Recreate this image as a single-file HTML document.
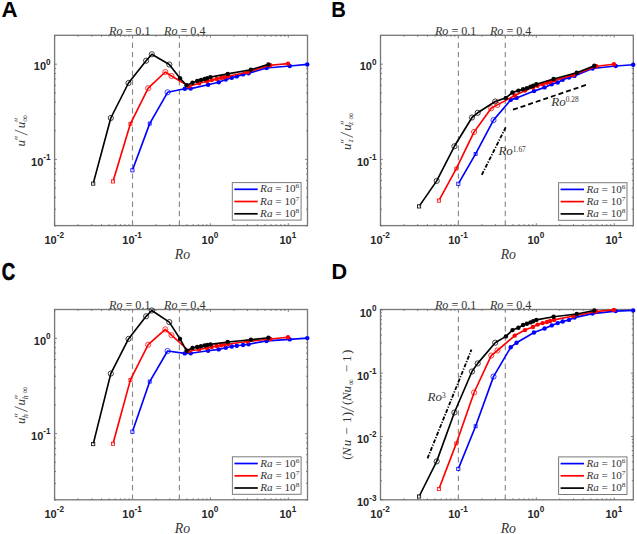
<!DOCTYPE html><html><head><meta charset="utf-8"><style>html,body{margin:0;padding:0;background:#fff;width:637px;height:534px;overflow:hidden}svg{display:block}</style></head><body><svg width="637" height="534" viewBox="0 0 637 534">
<style>.tl{font-family:"Liberation Sans",sans-serif;font-weight:bold;font-size:11px;fill:#262626}.lt{font-family:"Liberation Serif",serif;font-size:11px;fill:#333}.pl{font-family:"Liberation Sans",sans-serif;font-weight:bold;font-size:22.3px;fill:#000}</style>
<rect width="637" height="534" fill="#fff"/>
<text x="1.4" y="17.4" class="pl">A</text>
<text x="331.3" y="17.4" class="pl" textLength="14.6" lengthAdjust="spacingAndGlyphs">B</text>
<text x="1.8" y="279.8" class="pl" style="font-size:23.6px;stroke:#000;stroke-width:0.6" textLength="13.4" lengthAdjust="spacingAndGlyphs">C</text>
<text x="331.5" y="278.9" class="pl" textLength="15.6" lengthAdjust="spacingAndGlyphs">D</text>
<rect x="54.6" y="35.3" width="252.90" height="190.30" fill="none" stroke="#7a7a7a" stroke-width="1.35"/>
<path d="M54.60 225.6v-2.4M54.60 35.3v2.4M78.05 225.6v-1.5M78.05 35.3v1.5M91.77 225.6v-1.5M91.77 35.3v1.5M101.50 225.6v-1.5M101.50 35.3v1.5M109.05 225.6v-1.5M109.05 35.3v1.5M115.22 225.6v-1.5M115.22 35.3v1.5M120.43 225.6v-1.5M120.43 35.3v1.5M124.95 225.6v-1.5M124.95 35.3v1.5M128.94 225.6v-1.5M128.94 35.3v1.5M132.50 225.6v-2.4M132.50 35.3v2.4M155.95 225.6v-1.5M155.95 35.3v1.5M169.67 225.6v-1.5M169.67 35.3v1.5M179.40 225.6v-1.5M179.40 35.3v1.5M186.95 225.6v-1.5M186.95 35.3v1.5M193.12 225.6v-1.5M193.12 35.3v1.5M198.33 225.6v-1.5M198.33 35.3v1.5M202.85 225.6v-1.5M202.85 35.3v1.5M206.84 225.6v-1.5M206.84 35.3v1.5M210.40 225.6v-2.4M210.40 35.3v2.4M233.85 225.6v-1.5M233.85 35.3v1.5M247.57 225.6v-1.5M247.57 35.3v1.5M257.30 225.6v-1.5M257.30 35.3v1.5M264.85 225.6v-1.5M264.85 35.3v1.5M271.02 225.6v-1.5M271.02 35.3v1.5M276.23 225.6v-1.5M276.23 35.3v1.5M280.75 225.6v-1.5M280.75 35.3v1.5M284.74 225.6v-1.5M284.74 35.3v1.5M288.30 225.6v-2.4M288.30 35.3v2.4M54.6 225.94h1.5M307.5 225.94h-1.5M54.6 209.18h1.5M307.5 209.18h-1.5M54.6 197.28h1.5M307.5 197.28h-1.5M54.6 188.06h1.5M307.5 188.06h-1.5M54.6 180.52h1.5M307.5 180.52h-1.5M54.6 174.15h1.5M307.5 174.15h-1.5M54.6 168.63h1.5M307.5 168.63h-1.5M54.6 163.76h1.5M307.5 163.76h-1.5M54.6 159.40h2.4M307.5 159.40h-2.4M54.6 130.74h1.5M307.5 130.74h-1.5M54.6 113.98h1.5M307.5 113.98h-1.5M54.6 102.08h1.5M307.5 102.08h-1.5M54.6 92.86h1.5M307.5 92.86h-1.5M54.6 85.32h1.5M307.5 85.32h-1.5M54.6 78.95h1.5M307.5 78.95h-1.5M54.6 73.43h1.5M307.5 73.43h-1.5M54.6 68.56h1.5M307.5 68.56h-1.5M54.6 64.20h2.4M307.5 64.20h-2.4" stroke="#666" stroke-width="0.8" fill="none"/>
<line x1="132.50" y1="225.6" x2="132.50" y2="35.3" stroke="#8a8a8a" stroke-width="1.15" stroke-dasharray="5.4 3.95"/>
<line x1="179.40" y1="225.6" x2="179.40" y2="35.3" stroke="#8a8a8a" stroke-width="1.15" stroke-dasharray="5.4 3.95"/>
<text x="109.00" y="34.60" class="lt" style="font-size:13px" textLength="41.5" lengthAdjust="spacingAndGlyphs"><tspan font-style="italic">Ro</tspan> = 0.1</text>
<text x="164.00" y="34.60" class="lt" style="font-size:13px" textLength="41.5" lengthAdjust="spacingAndGlyphs"><tspan font-style="italic">Ro</tspan> = 0.4</text>
<text x="54.20" y="243.79999999999998" text-anchor="middle" class="tl">10<tspan dy="-5.7" font-size="8.2">-2</tspan></text>
<text x="132.10" y="243.79999999999998" text-anchor="middle" class="tl">10<tspan dy="-5.7" font-size="8.2">-1</tspan></text>
<text x="210.00" y="243.79999999999998" text-anchor="middle" class="tl">10<tspan dy="-5.7" font-size="8.2">0</tspan></text>
<text x="287.90" y="243.79999999999998" text-anchor="middle" class="tl">10<tspan dy="-5.7" font-size="8.2">1</tspan></text>
<text x="174.80" y="259.00" class="lt" style="font-style:italic;font-size:13.8px">Ro</text>
<rect x="380.5" y="35.3" width="252.80" height="190.30" fill="none" stroke="#7a7a7a" stroke-width="1.35"/>
<path d="M380.50 225.6v-2.4M380.50 35.3v2.4M403.95 225.6v-1.5M403.95 35.3v1.5M417.67 225.6v-1.5M417.67 35.3v1.5M427.40 225.6v-1.5M427.40 35.3v1.5M434.95 225.6v-1.5M434.95 35.3v1.5M441.12 225.6v-1.5M441.12 35.3v1.5M446.33 225.6v-1.5M446.33 35.3v1.5M450.85 225.6v-1.5M450.85 35.3v1.5M454.84 225.6v-1.5M454.84 35.3v1.5M458.40 225.6v-2.4M458.40 35.3v2.4M481.85 225.6v-1.5M481.85 35.3v1.5M495.57 225.6v-1.5M495.57 35.3v1.5M505.30 225.6v-1.5M505.30 35.3v1.5M512.85 225.6v-1.5M512.85 35.3v1.5M519.02 225.6v-1.5M519.02 35.3v1.5M524.23 225.6v-1.5M524.23 35.3v1.5M528.75 225.6v-1.5M528.75 35.3v1.5M532.74 225.6v-1.5M532.74 35.3v1.5M536.30 225.6v-2.4M536.30 35.3v2.4M559.75 225.6v-1.5M559.75 35.3v1.5M573.47 225.6v-1.5M573.47 35.3v1.5M583.20 225.6v-1.5M583.20 35.3v1.5M590.75 225.6v-1.5M590.75 35.3v1.5M596.92 225.6v-1.5M596.92 35.3v1.5M602.13 225.6v-1.5M602.13 35.3v1.5M606.65 225.6v-1.5M606.65 35.3v1.5M610.64 225.6v-1.5M610.64 35.3v1.5M614.20 225.6v-2.4M614.20 35.3v2.4M380.5 225.94h1.5M633.3 225.94h-1.5M380.5 209.18h1.5M633.3 209.18h-1.5M380.5 197.28h1.5M633.3 197.28h-1.5M380.5 188.06h1.5M633.3 188.06h-1.5M380.5 180.52h1.5M633.3 180.52h-1.5M380.5 174.15h1.5M633.3 174.15h-1.5M380.5 168.63h1.5M633.3 168.63h-1.5M380.5 163.76h1.5M633.3 163.76h-1.5M380.5 159.40h2.4M633.3 159.40h-2.4M380.5 130.74h1.5M633.3 130.74h-1.5M380.5 113.98h1.5M633.3 113.98h-1.5M380.5 102.08h1.5M633.3 102.08h-1.5M380.5 92.86h1.5M633.3 92.86h-1.5M380.5 85.32h1.5M633.3 85.32h-1.5M380.5 78.95h1.5M633.3 78.95h-1.5M380.5 73.43h1.5M633.3 73.43h-1.5M380.5 68.56h1.5M633.3 68.56h-1.5M380.5 64.20h2.4M633.3 64.20h-2.4" stroke="#666" stroke-width="0.8" fill="none"/>
<line x1="458.40" y1="225.6" x2="458.40" y2="35.3" stroke="#8a8a8a" stroke-width="1.15" stroke-dasharray="5.4 3.95"/>
<line x1="505.30" y1="225.6" x2="505.30" y2="35.3" stroke="#8a8a8a" stroke-width="1.15" stroke-dasharray="5.4 3.95"/>
<text x="434.90" y="34.60" class="lt" style="font-size:13px" textLength="41.5" lengthAdjust="spacingAndGlyphs"><tspan font-style="italic">Ro</tspan> = 0.1</text>
<text x="489.90" y="34.60" class="lt" style="font-size:13px" textLength="41.5" lengthAdjust="spacingAndGlyphs"><tspan font-style="italic">Ro</tspan> = 0.4</text>
<text x="380.10" y="243.79999999999998" text-anchor="middle" class="tl">10<tspan dy="-5.7" font-size="8.2">-2</tspan></text>
<text x="458.00" y="243.79999999999998" text-anchor="middle" class="tl">10<tspan dy="-5.7" font-size="8.2">-1</tspan></text>
<text x="535.90" y="243.79999999999998" text-anchor="middle" class="tl">10<tspan dy="-5.7" font-size="8.2">0</tspan></text>
<text x="613.80" y="243.79999999999998" text-anchor="middle" class="tl">10<tspan dy="-5.7" font-size="8.2">1</tspan></text>
<text x="500.70" y="259.00" class="lt" style="font-style:italic;font-size:13.8px">Ro</text>
<rect x="54.6" y="309.5" width="252.90" height="190.30" fill="none" stroke="#7a7a7a" stroke-width="1.35"/>
<path d="M54.60 499.8v-2.4M54.60 309.5v2.4M78.05 499.8v-1.5M78.05 309.5v1.5M91.77 499.8v-1.5M91.77 309.5v1.5M101.50 499.8v-1.5M101.50 309.5v1.5M109.05 499.8v-1.5M109.05 309.5v1.5M115.22 499.8v-1.5M115.22 309.5v1.5M120.43 499.8v-1.5M120.43 309.5v1.5M124.95 499.8v-1.5M124.95 309.5v1.5M128.94 499.8v-1.5M128.94 309.5v1.5M132.50 499.8v-2.4M132.50 309.5v2.4M155.95 499.8v-1.5M155.95 309.5v1.5M169.67 499.8v-1.5M169.67 309.5v1.5M179.40 499.8v-1.5M179.40 309.5v1.5M186.95 499.8v-1.5M186.95 309.5v1.5M193.12 499.8v-1.5M193.12 309.5v1.5M198.33 499.8v-1.5M198.33 309.5v1.5M202.85 499.8v-1.5M202.85 309.5v1.5M206.84 499.8v-1.5M206.84 309.5v1.5M210.40 499.8v-2.4M210.40 309.5v2.4M233.85 499.8v-1.5M233.85 309.5v1.5M247.57 499.8v-1.5M247.57 309.5v1.5M257.30 499.8v-1.5M257.30 309.5v1.5M264.85 499.8v-1.5M264.85 309.5v1.5M271.02 499.8v-1.5M271.02 309.5v1.5M276.23 499.8v-1.5M276.23 309.5v1.5M280.75 499.8v-1.5M280.75 309.5v1.5M284.74 499.8v-1.5M284.74 309.5v1.5M288.30 499.8v-2.4M288.30 309.5v2.4M54.6 500.14h1.5M307.5 500.14h-1.5M54.6 483.38h1.5M307.5 483.38h-1.5M54.6 471.48h1.5M307.5 471.48h-1.5M54.6 462.26h1.5M307.5 462.26h-1.5M54.6 454.72h1.5M307.5 454.72h-1.5M54.6 448.35h1.5M307.5 448.35h-1.5M54.6 442.83h1.5M307.5 442.83h-1.5M54.6 437.96h1.5M307.5 437.96h-1.5M54.6 433.60h2.4M307.5 433.60h-2.4M54.6 404.94h1.5M307.5 404.94h-1.5M54.6 388.18h1.5M307.5 388.18h-1.5M54.6 376.28h1.5M307.5 376.28h-1.5M54.6 367.06h1.5M307.5 367.06h-1.5M54.6 359.52h1.5M307.5 359.52h-1.5M54.6 353.15h1.5M307.5 353.15h-1.5M54.6 347.63h1.5M307.5 347.63h-1.5M54.6 342.76h1.5M307.5 342.76h-1.5M54.6 338.40h2.4M307.5 338.40h-2.4" stroke="#666" stroke-width="0.8" fill="none"/>
<line x1="132.50" y1="499.8" x2="132.50" y2="309.5" stroke="#8a8a8a" stroke-width="1.15" stroke-dasharray="5.4 3.95"/>
<line x1="179.40" y1="499.8" x2="179.40" y2="309.5" stroke="#8a8a8a" stroke-width="1.15" stroke-dasharray="5.4 3.95"/>
<text x="109.00" y="308.80" class="lt" style="font-size:13px" textLength="41.5" lengthAdjust="spacingAndGlyphs"><tspan font-style="italic">Ro</tspan> = 0.1</text>
<text x="164.00" y="308.80" class="lt" style="font-size:13px" textLength="41.5" lengthAdjust="spacingAndGlyphs"><tspan font-style="italic">Ro</tspan> = 0.4</text>
<text x="54.20" y="518.0" text-anchor="middle" class="tl">10<tspan dy="-5.7" font-size="8.2">-2</tspan></text>
<text x="132.10" y="518.0" text-anchor="middle" class="tl">10<tspan dy="-5.7" font-size="8.2">-1</tspan></text>
<text x="210.00" y="518.0" text-anchor="middle" class="tl">10<tspan dy="-5.7" font-size="8.2">0</tspan></text>
<text x="287.90" y="518.0" text-anchor="middle" class="tl">10<tspan dy="-5.7" font-size="8.2">1</tspan></text>
<text x="174.80" y="533.20" class="lt" style="font-style:italic;font-size:13.8px">Ro</text>
<rect x="380.5" y="309.5" width="252.80" height="190.30" fill="none" stroke="#7a7a7a" stroke-width="1.35"/>
<path d="M380.50 499.8v-2.4M380.50 309.5v2.4M403.95 499.8v-1.5M403.95 309.5v1.5M417.67 499.8v-1.5M417.67 309.5v1.5M427.40 499.8v-1.5M427.40 309.5v1.5M434.95 499.8v-1.5M434.95 309.5v1.5M441.12 499.8v-1.5M441.12 309.5v1.5M446.33 499.8v-1.5M446.33 309.5v1.5M450.85 499.8v-1.5M450.85 309.5v1.5M454.84 499.8v-1.5M454.84 309.5v1.5M458.40 499.8v-2.4M458.40 309.5v2.4M481.85 499.8v-1.5M481.85 309.5v1.5M495.57 499.8v-1.5M495.57 309.5v1.5M505.30 499.8v-1.5M505.30 309.5v1.5M512.85 499.8v-1.5M512.85 309.5v1.5M519.02 499.8v-1.5M519.02 309.5v1.5M524.23 499.8v-1.5M524.23 309.5v1.5M528.75 499.8v-1.5M528.75 309.5v1.5M532.74 499.8v-1.5M532.74 309.5v1.5M536.30 499.8v-2.4M536.30 309.5v2.4M559.75 499.8v-1.5M559.75 309.5v1.5M573.47 499.8v-1.5M573.47 309.5v1.5M583.20 499.8v-1.5M583.20 309.5v1.5M590.75 499.8v-1.5M590.75 309.5v1.5M596.92 499.8v-1.5M596.92 309.5v1.5M602.13 499.8v-1.5M602.13 309.5v1.5M606.65 499.8v-1.5M606.65 309.5v1.5M610.64 499.8v-1.5M610.64 309.5v1.5M614.20 499.8v-2.4M614.20 309.5v2.4M380.5 499.80h2.4M633.3 499.80h-2.4M380.5 480.74h1.5M633.3 480.74h-1.5M380.5 469.60h1.5M633.3 469.60h-1.5M380.5 461.69h1.5M633.3 461.69h-1.5M380.5 455.56h1.5M633.3 455.56h-1.5M380.5 450.54h1.5M633.3 450.54h-1.5M380.5 446.31h1.5M633.3 446.31h-1.5M380.5 442.63h1.5M633.3 442.63h-1.5M380.5 439.40h1.5M633.3 439.40h-1.5M380.5 436.50h2.4M633.3 436.50h-2.4M380.5 417.44h1.5M633.3 417.44h-1.5M380.5 406.30h1.5M633.3 406.30h-1.5M380.5 398.39h1.5M633.3 398.39h-1.5M380.5 392.26h1.5M633.3 392.26h-1.5M380.5 387.24h1.5M633.3 387.24h-1.5M380.5 383.01h1.5M633.3 383.01h-1.5M380.5 379.33h1.5M633.3 379.33h-1.5M380.5 376.10h1.5M633.3 376.10h-1.5M380.5 373.20h2.4M633.3 373.20h-2.4M380.5 354.14h1.5M633.3 354.14h-1.5M380.5 343.00h1.5M633.3 343.00h-1.5M380.5 335.09h1.5M633.3 335.09h-1.5M380.5 328.96h1.5M633.3 328.96h-1.5M380.5 323.94h1.5M633.3 323.94h-1.5M380.5 319.71h1.5M633.3 319.71h-1.5M380.5 316.03h1.5M633.3 316.03h-1.5M380.5 312.80h1.5M633.3 312.80h-1.5M380.5 309.90h2.4M633.3 309.90h-2.4" stroke="#666" stroke-width="0.8" fill="none"/>
<line x1="458.40" y1="499.8" x2="458.40" y2="309.5" stroke="#8a8a8a" stroke-width="1.15" stroke-dasharray="5.4 3.95"/>
<line x1="505.30" y1="499.8" x2="505.30" y2="309.5" stroke="#8a8a8a" stroke-width="1.15" stroke-dasharray="5.4 3.95"/>
<text x="434.90" y="308.80" class="lt" style="font-size:13px" textLength="41.5" lengthAdjust="spacingAndGlyphs"><tspan font-style="italic">Ro</tspan> = 0.1</text>
<text x="489.90" y="308.80" class="lt" style="font-size:13px" textLength="41.5" lengthAdjust="spacingAndGlyphs"><tspan font-style="italic">Ro</tspan> = 0.4</text>
<text x="380.10" y="518.0" text-anchor="middle" class="tl">10<tspan dy="-5.7" font-size="8.2">-2</tspan></text>
<text x="458.00" y="518.0" text-anchor="middle" class="tl">10<tspan dy="-5.7" font-size="8.2">-1</tspan></text>
<text x="535.90" y="518.0" text-anchor="middle" class="tl">10<tspan dy="-5.7" font-size="8.2">0</tspan></text>
<text x="613.80" y="518.0" text-anchor="middle" class="tl">10<tspan dy="-5.7" font-size="8.2">1</tspan></text>
<text x="500.70" y="533.20" class="lt" style="font-style:italic;font-size:13.8px">Ro</text>
<text x="50.6" y="70.30" text-anchor="end" class="tl">10<tspan dy="-5.7" font-size="8.2">0</tspan></text>
<text x="50.6" y="165.50" text-anchor="end" class="tl">10<tspan dy="-5.7" font-size="8.2">-1</tspan></text>
<text x="376.5" y="70.30" text-anchor="end" class="tl">10<tspan dy="-5.7" font-size="8.2">0</tspan></text>
<text x="376.5" y="165.50" text-anchor="end" class="tl">10<tspan dy="-5.7" font-size="8.2">-1</tspan></text>
<text x="50.6" y="344.50" text-anchor="end" class="tl">10<tspan dy="-5.7" font-size="8.2">0</tspan></text>
<text x="50.6" y="439.70" text-anchor="end" class="tl">10<tspan dy="-5.7" font-size="8.2">-1</tspan></text>
<text x="376.5" y="316.50" text-anchor="end" class="tl">10<tspan dy="-5.7" font-size="8.2">0</tspan></text>
<text x="376.5" y="379.80" text-anchor="end" class="tl">10<tspan dy="-5.7" font-size="8.2">-1</tspan></text>
<text x="376.5" y="443.10" text-anchor="end" class="tl">10<tspan dy="-5.7" font-size="8.2">-2</tspan></text>
<text x="376.5" y="506.40" text-anchor="end" class="tl">10<tspan dy="-5.7" font-size="8.2">-3</tspan></text>
<polyline points="132.4,170.3 149.7,123.6 167.6,92.3 184.8,88.8 190.7,88.6 208.1,84.7 218.7,82.3 225.8,79.6 231.8,77.8 236.8,76.4 243.1,74.4 248.6,73.2 266.6,68.0 289.8,66.0 307.3,64.4" fill="none" stroke="#0000ff" stroke-width="1.65" stroke-linejoin="round"/>
<rect x="130.8" y="168.7" width="3.2" height="3.2" fill="#fff" fill-opacity="0.6" stroke="#0000ff" stroke-width="0.8"/>
<rect x="148.2" y="122.1" width="3" height="3" fill="none" stroke="#0000ff" stroke-width="0.8"/>
<circle cx="167.6" cy="92.3" r="2.6" fill="none" stroke="#0000ff" stroke-width="0.75"/>
<circle cx="184.8" cy="88.8" r="2.2" fill="#0000ff"/>
<circle cx="190.7" cy="88.6" r="2.2" fill="#0000ff"/>
<circle cx="208.1" cy="84.7" r="2.2" fill="#0000ff"/>
<circle cx="218.7" cy="82.3" r="2.2" fill="#0000ff"/>
<circle cx="225.8" cy="79.6" r="2.2" fill="#0000ff"/>
<circle cx="231.8" cy="77.8" r="2.2" fill="#0000ff"/>
<circle cx="236.8" cy="76.4" r="2.2" fill="#0000ff"/>
<circle cx="243.1" cy="74.4" r="2.2" fill="#0000ff"/>
<circle cx="248.6" cy="73.2" r="2.2" fill="#0000ff"/>
<circle cx="266.6" cy="68.0" r="2.2" fill="#0000ff"/>
<circle cx="289.8" cy="66.0" r="2.2" fill="#0000ff"/>
<circle cx="307.3" cy="64.4" r="2.2" fill="#0000ff"/>
<polyline points="113.0,181.4 130.4,123.8 148.2,88.2 165.3,72.0 171.5,76.0 188.9,86.4 199.1,83.3 207.0,81.3 211.7,80.1 216.7,78.9 221.1,77.9 224.2,77.2 228.2,76.3 247.4,72.2 270.3,65.3 288.0,63.6" fill="none" stroke="#ff0000" stroke-width="1.65" stroke-linejoin="round"/>
<rect x="111.4" y="179.8" width="3.2" height="3.2" fill="#fff" fill-opacity="0.6" stroke="#ff0000" stroke-width="0.8"/>
<rect x="128.9" y="122.3" width="3" height="3" fill="none" stroke="#ff0000" stroke-width="0.8"/>
<circle cx="148.2" cy="88.2" r="2.6" fill="none" stroke="#ff0000" stroke-width="0.75"/>
<circle cx="165.3" cy="72.0" r="2.6" fill="none" stroke="#ff0000" stroke-width="0.75"/>
<circle cx="171.5" cy="76.0" r="2.6" fill="none" stroke="#ff0000" stroke-width="0.75"/>
<circle cx="188.9" cy="86.4" r="2.2" fill="#ff0000"/>
<circle cx="199.1" cy="83.3" r="2.2" fill="#ff0000"/>
<circle cx="207.0" cy="81.3" r="2.2" fill="#ff0000"/>
<circle cx="211.7" cy="80.1" r="2.2" fill="#ff0000"/>
<circle cx="216.7" cy="78.9" r="2.2" fill="#ff0000"/>
<circle cx="221.1" cy="77.9" r="2.2" fill="#ff0000"/>
<circle cx="224.2" cy="77.2" r="2.2" fill="#ff0000"/>
<circle cx="228.2" cy="76.3" r="2.2" fill="#ff0000"/>
<circle cx="247.4" cy="72.2" r="2.2" fill="#ff0000"/>
<circle cx="270.3" cy="65.3" r="2.2" fill="#ff0000"/>
<circle cx="288.0" cy="63.6" r="2.2" fill="#ff0000"/>
<polyline points="93.2,183.6 110.8,118.0 128.5,83.0 146.1,60.7 151.8,54.3 169.3,64.5 180.0,78.3 186.6,85.2 192.5,82.8 197.2,80.9 201.0,79.9 204.6,79.0 207.3,78.2 210.4,77.1 227.7,73.9 250.9,69.7 268.4,64.4" fill="none" stroke="#000000" stroke-width="1.65" stroke-linejoin="round"/>
<rect x="91.6" y="182.0" width="3.2" height="3.2" fill="#fff" fill-opacity="0.6" stroke="#000000" stroke-width="0.8"/>
<circle cx="110.8" cy="118.0" r="2.6" fill="none" stroke="#000000" stroke-width="0.75"/>
<circle cx="128.5" cy="83.0" r="2.6" fill="none" stroke="#000000" stroke-width="0.75"/>
<circle cx="146.1" cy="60.7" r="2.6" fill="none" stroke="#000000" stroke-width="0.75"/>
<circle cx="151.8" cy="54.3" r="2.6" fill="none" stroke="#000000" stroke-width="0.75"/>
<circle cx="169.3" cy="64.5" r="2.6" fill="none" stroke="#000000" stroke-width="0.75"/>
<circle cx="180.0" cy="78.3" r="2.2" fill="#000000"/>
<circle cx="186.6" cy="85.2" r="2.2" fill="#000000"/>
<circle cx="192.5" cy="82.8" r="2.2" fill="#000000"/>
<circle cx="197.2" cy="80.9" r="2.2" fill="#000000"/>
<circle cx="201.0" cy="79.9" r="2.2" fill="#000000"/>
<circle cx="204.6" cy="79.0" r="2.2" fill="#000000"/>
<circle cx="207.3" cy="78.2" r="2.2" fill="#000000"/>
<circle cx="210.4" cy="77.1" r="2.2" fill="#000000"/>
<circle cx="227.7" cy="73.9" r="2.2" fill="#000000"/>
<circle cx="250.9" cy="69.7" r="2.2" fill="#000000"/>
<circle cx="268.4" cy="64.4" r="2.2" fill="#000000"/>
<polyline points="458.3,183.8 475.6,153.9 493.5,120.1 510.7,99.9 516.6,97.9 534.0,91.1 544.6,87.4 551.7,84.2 557.7,82.5 562.7,79.8 569.0,77.5 574.5,75.9 592.5,68.5 615.7,66.0 633.2,64.8" fill="none" stroke="#0000ff" stroke-width="1.65" stroke-linejoin="round"/>
<rect x="456.7" y="182.2" width="3.2" height="3.2" fill="#fff" fill-opacity="0.6" stroke="#0000ff" stroke-width="0.8"/>
<rect x="474.1" y="152.4" width="3" height="3" fill="none" stroke="#0000ff" stroke-width="0.8"/>
<circle cx="493.5" cy="120.1" r="2.6" fill="none" stroke="#0000ff" stroke-width="0.75"/>
<circle cx="510.7" cy="99.9" r="2.2" fill="#0000ff"/>
<circle cx="516.6" cy="97.9" r="2.2" fill="#0000ff"/>
<circle cx="534.0" cy="91.1" r="2.2" fill="#0000ff"/>
<circle cx="544.6" cy="87.4" r="2.2" fill="#0000ff"/>
<circle cx="551.7" cy="84.2" r="2.2" fill="#0000ff"/>
<circle cx="557.7" cy="82.5" r="2.2" fill="#0000ff"/>
<circle cx="562.7" cy="79.8" r="2.2" fill="#0000ff"/>
<circle cx="569.0" cy="77.5" r="2.2" fill="#0000ff"/>
<circle cx="574.5" cy="75.9" r="2.2" fill="#0000ff"/>
<circle cx="592.5" cy="68.5" r="2.2" fill="#0000ff"/>
<circle cx="615.7" cy="66.0" r="2.2" fill="#0000ff"/>
<circle cx="633.2" cy="64.8" r="2.2" fill="#0000ff"/>
<polyline points="438.9,200.6 456.3,168.6 474.1,131.9 491.2,108.3 497.4,104.9 514.8,95.5 525.0,90.5 532.9,87.5 537.6,85.8 542.6,84.2 547.0,82.8 550.1,81.8 554.1,80.6 573.3,75.0 596.2,66.3 613.9,64.2" fill="none" stroke="#ff0000" stroke-width="1.65" stroke-linejoin="round"/>
<rect x="437.3" y="199.0" width="3.2" height="3.2" fill="#fff" fill-opacity="0.6" stroke="#ff0000" stroke-width="0.8"/>
<rect x="454.8" y="167.1" width="3" height="3" fill="none" stroke="#ff0000" stroke-width="0.8"/>
<circle cx="474.1" cy="131.9" r="2.6" fill="none" stroke="#ff0000" stroke-width="0.75"/>
<circle cx="491.2" cy="108.3" r="2.6" fill="none" stroke="#ff0000" stroke-width="0.75"/>
<circle cx="497.4" cy="104.9" r="2.6" fill="none" stroke="#ff0000" stroke-width="0.75"/>
<circle cx="514.8" cy="95.5" r="2.2" fill="#ff0000"/>
<circle cx="525.0" cy="90.5" r="2.2" fill="#ff0000"/>
<circle cx="532.9" cy="87.5" r="2.2" fill="#ff0000"/>
<circle cx="537.6" cy="85.8" r="2.2" fill="#ff0000"/>
<circle cx="542.6" cy="84.2" r="2.2" fill="#ff0000"/>
<circle cx="547.0" cy="82.8" r="2.2" fill="#ff0000"/>
<circle cx="550.1" cy="81.8" r="2.2" fill="#ff0000"/>
<circle cx="554.1" cy="80.6" r="2.2" fill="#ff0000"/>
<circle cx="573.3" cy="75.0" r="2.2" fill="#ff0000"/>
<circle cx="596.2" cy="66.3" r="2.2" fill="#ff0000"/>
<circle cx="613.9" cy="64.2" r="2.2" fill="#ff0000"/>
<polyline points="419.1,206.4 436.7,180.9 454.4,146.3 472.0,117.5 477.7,112.8 495.2,101.5 505.9,97.9 512.5,92.5 518.4,90.6 523.1,89.2 526.9,88.2 530.5,86.8 533.2,85.8 536.3,84.2 553.6,79.0 576.8,72.8 594.3,65.7" fill="none" stroke="#000000" stroke-width="1.65" stroke-linejoin="round"/>
<rect x="417.5" y="204.8" width="3.2" height="3.2" fill="#fff" fill-opacity="0.6" stroke="#000000" stroke-width="0.8"/>
<circle cx="436.7" cy="180.9" r="2.6" fill="none" stroke="#000000" stroke-width="0.75"/>
<circle cx="454.4" cy="146.3" r="2.6" fill="none" stroke="#000000" stroke-width="0.75"/>
<circle cx="472.0" cy="117.5" r="2.6" fill="none" stroke="#000000" stroke-width="0.75"/>
<circle cx="477.7" cy="112.8" r="2.6" fill="none" stroke="#000000" stroke-width="0.75"/>
<circle cx="495.2" cy="101.5" r="2.6" fill="none" stroke="#000000" stroke-width="0.75"/>
<circle cx="505.9" cy="97.9" r="2.2" fill="#000000"/>
<circle cx="512.5" cy="92.5" r="2.2" fill="#000000"/>
<circle cx="518.4" cy="90.6" r="2.2" fill="#000000"/>
<circle cx="523.1" cy="89.2" r="2.2" fill="#000000"/>
<circle cx="526.9" cy="88.2" r="2.2" fill="#000000"/>
<circle cx="530.5" cy="86.8" r="2.2" fill="#000000"/>
<circle cx="533.2" cy="85.8" r="2.2" fill="#000000"/>
<circle cx="536.3" cy="84.2" r="2.2" fill="#000000"/>
<circle cx="553.6" cy="79.0" r="2.2" fill="#000000"/>
<circle cx="576.8" cy="72.8" r="2.2" fill="#000000"/>
<circle cx="594.3" cy="65.7" r="2.2" fill="#000000"/>
<polyline points="132.4,431.7 149.7,381.6 167.6,351.0 184.8,353.4 190.7,353.2 208.1,350.8 218.7,349.4 225.8,347.7 231.8,346.5 236.8,345.8 243.1,345.0 248.6,344.2 266.6,340.9 289.8,339.4 307.3,338.1" fill="none" stroke="#0000ff" stroke-width="1.65" stroke-linejoin="round"/>
<rect x="130.8" y="430.1" width="3.2" height="3.2" fill="#fff" fill-opacity="0.6" stroke="#0000ff" stroke-width="0.8"/>
<rect x="148.2" y="380.1" width="3" height="3" fill="none" stroke="#0000ff" stroke-width="0.8"/>
<circle cx="167.6" cy="351.0" r="2.6" fill="none" stroke="#0000ff" stroke-width="0.75"/>
<circle cx="184.8" cy="353.4" r="2.2" fill="#0000ff"/>
<circle cx="190.7" cy="353.2" r="2.2" fill="#0000ff"/>
<circle cx="208.1" cy="350.8" r="2.2" fill="#0000ff"/>
<circle cx="218.7" cy="349.4" r="2.2" fill="#0000ff"/>
<circle cx="225.8" cy="347.7" r="2.2" fill="#0000ff"/>
<circle cx="231.8" cy="346.5" r="2.2" fill="#0000ff"/>
<circle cx="236.8" cy="345.8" r="2.2" fill="#0000ff"/>
<circle cx="243.1" cy="345.0" r="2.2" fill="#0000ff"/>
<circle cx="248.6" cy="344.2" r="2.2" fill="#0000ff"/>
<circle cx="266.6" cy="340.9" r="2.2" fill="#0000ff"/>
<circle cx="289.8" cy="339.4" r="2.2" fill="#0000ff"/>
<circle cx="307.3" cy="338.1" r="2.2" fill="#0000ff"/>
<polyline points="113.0,443.7 130.4,379.9 148.2,344.7 165.3,329.4 171.5,335.2 188.9,351.0 199.1,349.5 207.0,348.0 211.7,347.0 216.7,346.0 221.1,345.2 224.2,344.6 228.2,344.0 247.4,341.5 270.3,339.0 288.0,337.3" fill="none" stroke="#ff0000" stroke-width="1.65" stroke-linejoin="round"/>
<rect x="111.4" y="442.1" width="3.2" height="3.2" fill="#fff" fill-opacity="0.6" stroke="#ff0000" stroke-width="0.8"/>
<rect x="128.9" y="378.4" width="3" height="3" fill="none" stroke="#ff0000" stroke-width="0.8"/>
<circle cx="148.2" cy="344.7" r="2.6" fill="none" stroke="#ff0000" stroke-width="0.75"/>
<circle cx="165.3" cy="329.4" r="2.6" fill="none" stroke="#ff0000" stroke-width="0.75"/>
<circle cx="171.5" cy="335.2" r="2.6" fill="none" stroke="#ff0000" stroke-width="0.75"/>
<circle cx="188.9" cy="351.0" r="2.2" fill="#ff0000"/>
<circle cx="199.1" cy="349.5" r="2.2" fill="#ff0000"/>
<circle cx="207.0" cy="348.0" r="2.2" fill="#ff0000"/>
<circle cx="211.7" cy="347.0" r="2.2" fill="#ff0000"/>
<circle cx="216.7" cy="346.0" r="2.2" fill="#ff0000"/>
<circle cx="221.1" cy="345.2" r="2.2" fill="#ff0000"/>
<circle cx="224.2" cy="344.6" r="2.2" fill="#ff0000"/>
<circle cx="228.2" cy="344.0" r="2.2" fill="#ff0000"/>
<circle cx="247.4" cy="341.5" r="2.2" fill="#ff0000"/>
<circle cx="270.3" cy="339.0" r="2.2" fill="#ff0000"/>
<circle cx="288.0" cy="337.3" r="2.2" fill="#ff0000"/>
<polyline points="93.2,444.1 110.8,373.6 128.5,338.9 146.1,316.3 151.8,310.5 169.3,322.1 180.0,338.9 186.6,350.8 192.5,347.9 197.2,347.0 201.0,346.2 204.6,345.5 207.3,344.9 210.4,344.4 227.7,342.0 250.9,339.8 268.4,337.7" fill="none" stroke="#000000" stroke-width="1.65" stroke-linejoin="round"/>
<rect x="91.6" y="442.5" width="3.2" height="3.2" fill="#fff" fill-opacity="0.6" stroke="#000000" stroke-width="0.8"/>
<circle cx="110.8" cy="373.6" r="2.6" fill="none" stroke="#000000" stroke-width="0.75"/>
<circle cx="128.5" cy="338.9" r="2.6" fill="none" stroke="#000000" stroke-width="0.75"/>
<circle cx="146.1" cy="316.3" r="2.6" fill="none" stroke="#000000" stroke-width="0.75"/>
<circle cx="151.8" cy="310.5" r="2.6" fill="none" stroke="#000000" stroke-width="0.75"/>
<circle cx="169.3" cy="322.1" r="2.6" fill="none" stroke="#000000" stroke-width="0.75"/>
<circle cx="180.0" cy="338.9" r="2.2" fill="#000000"/>
<circle cx="186.6" cy="350.8" r="2.2" fill="#000000"/>
<circle cx="192.5" cy="347.9" r="2.2" fill="#000000"/>
<circle cx="197.2" cy="347.0" r="2.2" fill="#000000"/>
<circle cx="201.0" cy="346.2" r="2.2" fill="#000000"/>
<circle cx="204.6" cy="345.5" r="2.2" fill="#000000"/>
<circle cx="207.3" cy="344.9" r="2.2" fill="#000000"/>
<circle cx="210.4" cy="344.4" r="2.2" fill="#000000"/>
<circle cx="227.7" cy="342.0" r="2.2" fill="#000000"/>
<circle cx="250.9" cy="339.8" r="2.2" fill="#000000"/>
<circle cx="268.4" cy="337.7" r="2.2" fill="#000000"/>
<polyline points="458.3,468.9 475.6,426.3 493.5,376.6 510.7,347.3 516.6,342.7 534.0,332.5 544.6,328.5 551.7,325.4 557.7,323.1 562.7,321.5 569.0,319.9 574.5,317.6 592.5,313.6 615.7,311.1 633.2,310.4" fill="none" stroke="#0000ff" stroke-width="1.65" stroke-linejoin="round"/>
<rect x="456.7" y="467.3" width="3.2" height="3.2" fill="#fff" fill-opacity="0.6" stroke="#0000ff" stroke-width="0.8"/>
<rect x="474.1" y="424.8" width="3" height="3" fill="none" stroke="#0000ff" stroke-width="0.8"/>
<circle cx="493.5" cy="376.6" r="2.6" fill="none" stroke="#0000ff" stroke-width="0.75"/>
<circle cx="510.7" cy="347.3" r="2.2" fill="#0000ff"/>
<circle cx="516.6" cy="342.7" r="2.2" fill="#0000ff"/>
<circle cx="534.0" cy="332.5" r="2.2" fill="#0000ff"/>
<circle cx="544.6" cy="328.5" r="2.2" fill="#0000ff"/>
<circle cx="551.7" cy="325.4" r="2.2" fill="#0000ff"/>
<circle cx="557.7" cy="323.1" r="2.2" fill="#0000ff"/>
<circle cx="562.7" cy="321.5" r="2.2" fill="#0000ff"/>
<circle cx="569.0" cy="319.9" r="2.2" fill="#0000ff"/>
<circle cx="574.5" cy="317.6" r="2.2" fill="#0000ff"/>
<circle cx="592.5" cy="313.6" r="2.2" fill="#0000ff"/>
<circle cx="615.7" cy="311.1" r="2.2" fill="#0000ff"/>
<circle cx="633.2" cy="310.4" r="2.2" fill="#0000ff"/>
<polyline points="438.9,489.0 456.3,443.4 474.1,392.5 491.2,355.6 497.4,350.5 514.8,335.6 525.0,330.1 532.9,327.0 537.6,324.6 542.6,323.1 547.0,322.0 550.1,321.0 554.1,319.9 573.3,316.0 596.2,311.5 613.9,309.9" fill="none" stroke="#ff0000" stroke-width="1.65" stroke-linejoin="round"/>
<rect x="437.3" y="487.4" width="3.2" height="3.2" fill="#fff" fill-opacity="0.6" stroke="#ff0000" stroke-width="0.8"/>
<rect x="454.8" y="441.9" width="3" height="3" fill="none" stroke="#ff0000" stroke-width="0.8"/>
<circle cx="474.1" cy="392.5" r="2.6" fill="none" stroke="#ff0000" stroke-width="0.75"/>
<circle cx="491.2" cy="355.6" r="2.6" fill="none" stroke="#ff0000" stroke-width="0.75"/>
<circle cx="497.4" cy="350.5" r="2.6" fill="none" stroke="#ff0000" stroke-width="0.75"/>
<circle cx="514.8" cy="335.6" r="2.2" fill="#ff0000"/>
<circle cx="525.0" cy="330.1" r="2.2" fill="#ff0000"/>
<circle cx="532.9" cy="327.0" r="2.2" fill="#ff0000"/>
<circle cx="537.6" cy="324.6" r="2.2" fill="#ff0000"/>
<circle cx="542.6" cy="323.1" r="2.2" fill="#ff0000"/>
<circle cx="547.0" cy="322.0" r="2.2" fill="#ff0000"/>
<circle cx="550.1" cy="321.0" r="2.2" fill="#ff0000"/>
<circle cx="554.1" cy="319.9" r="2.2" fill="#ff0000"/>
<circle cx="573.3" cy="316.0" r="2.2" fill="#ff0000"/>
<circle cx="596.2" cy="311.5" r="2.2" fill="#ff0000"/>
<circle cx="613.9" cy="309.9" r="2.2" fill="#ff0000"/>
<polyline points="419.1,496.5 436.7,461.4 454.4,412.5 472.0,371.5 477.7,363.4 495.2,342.7 505.9,336.4 512.5,330.1 518.4,327.7 523.1,325.0 526.9,323.8 530.5,322.4 533.2,321.3 536.3,319.9 553.6,316.8 576.8,314.0 594.3,310.5" fill="none" stroke="#000000" stroke-width="1.65" stroke-linejoin="round"/>
<rect x="417.5" y="494.9" width="3.2" height="3.2" fill="#fff" fill-opacity="0.6" stroke="#000000" stroke-width="0.8"/>
<circle cx="436.7" cy="461.4" r="2.6" fill="none" stroke="#000000" stroke-width="0.75"/>
<circle cx="454.4" cy="412.5" r="2.6" fill="none" stroke="#000000" stroke-width="0.75"/>
<circle cx="472.0" cy="371.5" r="2.6" fill="none" stroke="#000000" stroke-width="0.75"/>
<circle cx="477.7" cy="363.4" r="2.6" fill="none" stroke="#000000" stroke-width="0.75"/>
<circle cx="495.2" cy="342.7" r="2.6" fill="none" stroke="#000000" stroke-width="0.75"/>
<circle cx="505.9" cy="336.4" r="2.2" fill="#000000"/>
<circle cx="512.5" cy="330.1" r="2.2" fill="#000000"/>
<circle cx="518.4" cy="327.7" r="2.2" fill="#000000"/>
<circle cx="523.1" cy="325.0" r="2.2" fill="#000000"/>
<circle cx="526.9" cy="323.8" r="2.2" fill="#000000"/>
<circle cx="530.5" cy="322.4" r="2.2" fill="#000000"/>
<circle cx="533.2" cy="321.3" r="2.2" fill="#000000"/>
<circle cx="536.3" cy="319.9" r="2.2" fill="#000000"/>
<circle cx="553.6" cy="316.8" r="2.2" fill="#000000"/>
<circle cx="576.8" cy="314.0" r="2.2" fill="#000000"/>
<circle cx="594.3" cy="310.5" r="2.2" fill="#000000"/>
<line x1="513" y1="109.7" x2="588.2" y2="84.2" stroke="#000" stroke-width="1.8" stroke-dasharray="5 3"/>
<line x1="481.8" y1="174.8" x2="505.7" y2="127.3" stroke="#000" stroke-width="1.8" stroke-dasharray="4 1.5 1.2 1.5"/>
<line x1="427.5" y1="458.4" x2="471.5" y2="349.6" stroke="#000" stroke-width="1.8" stroke-dasharray="4 1.5 1.2 1.5"/>
<text x="551.2" y="105.8" class="lt" style="font-size:13px"><tspan font-style="italic">Ro</tspan><tspan dy="-3.4" font-size="7.4">0.28</tspan></text>
<text x="498.4" y="154.9" class="lt" style="font-size:13px"><tspan font-style="italic">Ro</tspan><tspan dy="-3.4" font-size="7.4">1.67</tspan></text>
<text x="427.6" y="400.9" class="lt" style="font-size:13px"><tspan font-style="italic">Ro</tspan><tspan dy="-3.4" font-size="7.4">3</tspan></text>
<rect x="232.3" y="182.6" width="68.8" height="37.5" fill="#fff" stroke="#7a7a7a" stroke-width="1"/>
<line x1="234.3" y1="189.3" x2="257.7" y2="189.3" stroke="#0000ff" stroke-width="1.7"/>
<text x="260.1" y="192.4" class="lt" style="font-size:10.5px" textLength="39.2" lengthAdjust="spacingAndGlyphs"><tspan font-style="italic">Ra</tspan> = 10<tspan dy="-4" font-size="7">6</tspan></text>
<line x1="234.3" y1="201.5" x2="257.7" y2="201.5" stroke="#ff0000" stroke-width="1.7"/>
<text x="260.1" y="204.6" class="lt" style="font-size:10.5px" textLength="39.2" lengthAdjust="spacingAndGlyphs"><tspan font-style="italic">Ra</tspan> = 10<tspan dy="-4" font-size="7">7</tspan></text>
<line x1="234.3" y1="213.8" x2="257.7" y2="213.8" stroke="#000000" stroke-width="1.7"/>
<text x="260.1" y="216.9" class="lt" style="font-size:10.5px" textLength="39.2" lengthAdjust="spacingAndGlyphs"><tspan font-style="italic">Ra</tspan> = 10<tspan dy="-4" font-size="7">8</tspan></text>
<rect x="558.6" y="182.7" width="68.4" height="37.6" fill="#fff" stroke="#7a7a7a" stroke-width="1"/>
<line x1="560.6" y1="189.4" x2="584.0" y2="189.4" stroke="#0000ff" stroke-width="1.7"/>
<text x="586.4" y="192.5" class="lt" style="font-size:10.5px" textLength="39.2" lengthAdjust="spacingAndGlyphs"><tspan font-style="italic">Ra</tspan> = 10<tspan dy="-4" font-size="7">6</tspan></text>
<line x1="560.6" y1="201.6" x2="584.0" y2="201.6" stroke="#ff0000" stroke-width="1.7"/>
<text x="586.4" y="204.7" class="lt" style="font-size:10.5px" textLength="39.2" lengthAdjust="spacingAndGlyphs"><tspan font-style="italic">Ra</tspan> = 10<tspan dy="-4" font-size="7">7</tspan></text>
<line x1="560.6" y1="213.9" x2="584.0" y2="213.9" stroke="#000000" stroke-width="1.7"/>
<text x="586.4" y="217.0" class="lt" style="font-size:10.5px" textLength="39.2" lengthAdjust="spacingAndGlyphs"><tspan font-style="italic">Ra</tspan> = 10<tspan dy="-4" font-size="7">8</tspan></text>
<rect x="232.4" y="456.8" width="68.7" height="37.5" fill="#fff" stroke="#7a7a7a" stroke-width="1"/>
<line x1="234.4" y1="463.5" x2="257.8" y2="463.5" stroke="#0000ff" stroke-width="1.7"/>
<text x="260.2" y="466.6" class="lt" style="font-size:10.5px" textLength="39.2" lengthAdjust="spacingAndGlyphs"><tspan font-style="italic">Ra</tspan> = 10<tspan dy="-4" font-size="7">6</tspan></text>
<line x1="234.4" y1="475.8" x2="257.8" y2="475.8" stroke="#ff0000" stroke-width="1.7"/>
<text x="260.2" y="478.9" class="lt" style="font-size:10.5px" textLength="39.2" lengthAdjust="spacingAndGlyphs"><tspan font-style="italic">Ra</tspan> = 10<tspan dy="-4" font-size="7">7</tspan></text>
<line x1="234.4" y1="488.0" x2="257.8" y2="488.0" stroke="#000000" stroke-width="1.7"/>
<text x="260.2" y="491.1" class="lt" style="font-size:10.5px" textLength="39.2" lengthAdjust="spacingAndGlyphs"><tspan font-style="italic">Ra</tspan> = 10<tspan dy="-4" font-size="7">8</tspan></text>
<rect x="558.6" y="456.9" width="68.4" height="37.6" fill="#fff" stroke="#7a7a7a" stroke-width="1"/>
<line x1="560.6" y1="463.6" x2="584.0" y2="463.6" stroke="#0000ff" stroke-width="1.7"/>
<text x="586.4" y="466.7" class="lt" style="font-size:10.5px" textLength="39.2" lengthAdjust="spacingAndGlyphs"><tspan font-style="italic">Ra</tspan> = 10<tspan dy="-4" font-size="7">6</tspan></text>
<line x1="560.6" y1="475.8" x2="584.0" y2="475.8" stroke="#ff0000" stroke-width="1.7"/>
<text x="586.4" y="478.9" class="lt" style="font-size:10.5px" textLength="39.2" lengthAdjust="spacingAndGlyphs"><tspan font-style="italic">Ra</tspan> = 10<tspan dy="-4" font-size="7">7</tspan></text>
<line x1="560.6" y1="488.1" x2="584.0" y2="488.1" stroke="#000000" stroke-width="1.7"/>
<text x="586.4" y="491.2" class="lt" style="font-size:10.5px" textLength="39.2" lengthAdjust="spacingAndGlyphs"><tspan font-style="italic">Ra</tspan> = 10<tspan dy="-4" font-size="7">8</tspan></text>
<g transform="translate(24.7,146.5) rotate(-90)" style='font-family:"Liberation Serif",serif;fill:#333'><text x="0" y="0" style="font-size:13px;font-style:italic">u</text><path d="M7.1 -7.1L7.8 -9.9M9.2 -7.1L9.9 -9.9" stroke="#383838" stroke-width="0.8" fill="none"/><path d="M11.5 2.8L16.5 -9.9" stroke="#383838" stroke-width="0.8" fill="none"/><text x="18.2" y="0" style="font-size:13px;font-style:italic">u</text><path d="M25.200000000000003 -7.1L25.900000000000002 -9.9M27.3 -7.1L28.0 -9.9" stroke="#383838" stroke-width="0.8" fill="none"/><text x="24.8" y="3.2" style="font-size:9.5px">∞</text></g>
<g transform="translate(350.7,150) rotate(-90)" style='font-family:"Liberation Serif",serif;fill:#333'><text x="0" y="0" style="font-size:13px;font-style:italic">u</text><path d="M7.199999999999999 -7.1L7.8999999999999995 -9.9M9.3 -7.1L10.0 -9.9" stroke="#383838" stroke-width="0.8" fill="none"/><text x="7.7" y="2.4" style="font-size:7.2px;font-style:italic">z</text><path d="M12.7 2.3L17.8 -9.9" stroke="#383838" stroke-width="0.8" fill="none"/><text x="19.2" y="0" style="font-size:13px;font-style:italic">u</text><path d="M25.900000000000002 -7.1L26.6 -9.9M28.0 -7.1L28.7 -9.9" stroke="#383838" stroke-width="0.8" fill="none"/><text x="25.0" y="2.4" style="font-size:7.2px;font-style:italic">z</text><text x="30.5" y="3.4" style="font-size:9.5px">∞</text></g>
<g transform="translate(24.7,424) rotate(-90)" style='font-family:"Liberation Serif",serif;fill:#333'><text x="0" y="0" style="font-size:13px;font-style:italic">u</text><path d="M7.199999999999999 -7.1L7.8999999999999995 -9.9M9.3 -7.1L10.0 -9.9" stroke="#383838" stroke-width="0.8" fill="none"/><text x="6.0" y="2.9" style="font-size:7.6px;font-style:italic">h</text><path d="M12.3 2.8L17.4 -9.9" stroke="#383838" stroke-width="0.8" fill="none"/><text x="18.4" y="0" style="font-size:13px;font-style:italic">u</text><path d="M25.5 -7.1L26.2 -9.9M27.599999999999998 -7.1L28.299999999999997 -9.9" stroke="#383838" stroke-width="0.8" fill="none"/><text x="24.8" y="2.9" style="font-size:7.6px;font-style:italic">h</text><text x="30.6" y="3.4" style="font-size:9.5px">∞</text></g>
<g transform="translate(351.2,459.5) rotate(-90)" style='font-family:"Liberation Serif",serif;fill:#333'><text x="-0.2" y="0" style="font-size:13px">(</text><text x="3.6" y="0" style="font-size:13px;font-style:italic">N</text><text x="13.3" y="0" style="font-size:13px;font-style:italic">u</text><text x="24.8" y="0" style="font-size:13px">−</text><text x="36.5" y="0" style="font-size:13px">1</text><text x="43.3" y="0" style="font-size:13px">)</text><text x="54.5" y="0" style="font-size:13px">(</text><text x="58.5" y="0" style="font-size:13px;font-style:italic">N</text><text x="67" y="0" style="font-size:13px;font-style:italic">u</text><text x="87.3" y="0" style="font-size:13px">−</text><text x="97.6" y="0" style="font-size:13px">1</text><text x="105.6" y="0" style="font-size:13px">)</text><text x="74.3" y="2.7" style="font-size:9px">∞</text><path d="M47.6 2.8L52.9 -9.9" stroke="#383838" stroke-width="0.8" fill="none"/></g>
</svg></body></html>
